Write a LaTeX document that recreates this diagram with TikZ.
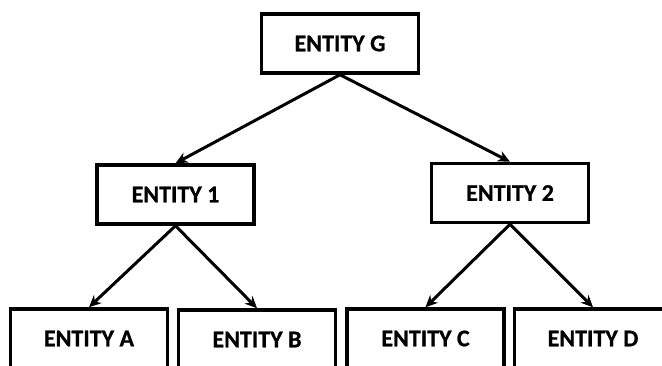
\documentclass[tikz,border=0pt]{standalone}
\usepackage{fontspec}
\setmainfont{Carlito}[BoldFeatures={FakeBold=0.8}]
\usetikzlibrary{arrows.meta}
\begin{document}
\begin{tikzpicture}[x=1pt,y=-1pt,
  box/.style={draw, line width=3.5pt, minimum width=157pt, minimum height=59pt, inner sep=0pt,
    font=\bfseries\fontsize{24}{28}\selectfont},
  conn/.style={line width=3pt, -{Stealth[length=12pt,width=11pt]}}]
\useasboundingbox (0,0) rectangle (662,365);
\clip (0,0) rectangle (662,365);
\node[box] (G) at (340,43.5) {ENTITY G};
\node[box] (E1) at (175.5,194.5) {ENTITY 1};
\node[box] (E2) at (510,193) {ENTITY 2};
\node[box] (A) at (89,338.5) {ENTITY A};
\node[box] (B) at (257,339.5) {ENTITY B};
\node[box] (C) at (425.5,338.5) {ENTITY C};
\node[box] (D) at (593,338.5) {ENTITY D};
\draw[conn] (G.south) -- (E1.north);
\draw[conn] (G.south) -- (E2.north);
\draw[conn] (E1.south) -- (A.north);
\draw[conn] (E1.south) -- (B.north);
\draw[conn] (E2.south) -- (C.north);
\draw[conn] (E2.south) -- (D.north);
\end{tikzpicture}
\end{document}
